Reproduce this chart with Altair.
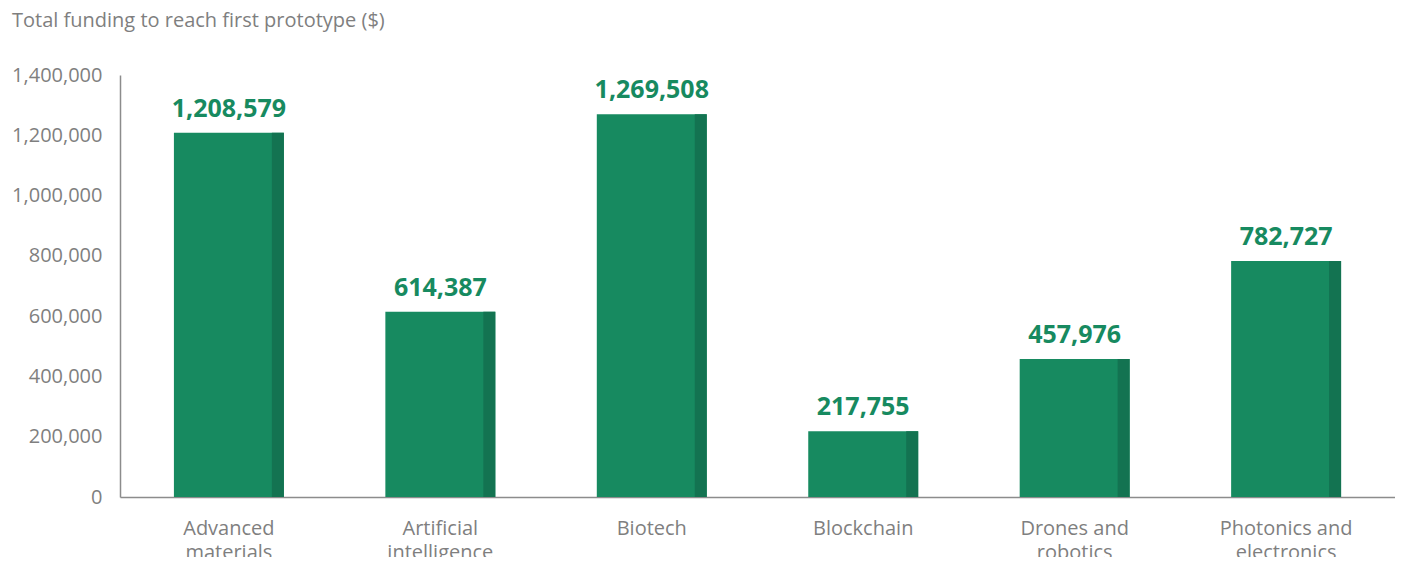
import altair as alt
import pandas as pd

categories = ["Advanced\nmaterials", "Artificial\nintelligence", "Biotech", "Blockchain",
              "Drones and\nrobotics", "Photonics and\nelectronics"]
values = [1208579, 614387, 1269508, 217755, 457976, 782727]
y_ticks = [0, 200000, 400000, 600000, 800000, 1000000, 1200000, 1400000]

df = pd.DataFrame({"cat": categories, "val": values})

FONT = "Open Sans"
GREEN = "#178A60"
DARK = "#137351"
GRAY = "#7f7f7f"

x_axis = alt.Axis(title=None, labelAngle=0, labelExpr="split(datum.label, '\\n')",
                  labelFontSize=20, labelColor=GRAY, labelFont=FONT,
                  labelPadding=21, labelLineHeight=24, ticks=False,
                  domainColor="#8c8c8c", domainWidth=1.5, labelBaseline="top")
x_scale = alt.Scale(paddingInner=0.48, paddingOuter=0.255)
y_scale = alt.Scale(domain=[0, 1400000], nice=False)
y_axis = alt.Axis(title=None, values=y_ticks, labelExpr="format(datum.value, ',')",
                  grid=False, ticks=False,
                  labelFontSize=20, labelColor=GRAY, labelFont=FONT,
                  labelPadding=18, domainColor="#8c8c8c", domainWidth=1.5)

x_enc = alt.X("cat:N", sort=categories, scale=x_scale, axis=x_axis)
y_enc = alt.Y("val:Q", scale=y_scale, axis=y_axis)

base = alt.Chart(df)

bars = base.mark_bar(color=GREEN).encode(x=x_enc, y=y_enc)

strip = base.mark_rule(color=DARK, strokeWidth=12, xOffset=-6).encode(
    x=alt.X("cat:N", sort=categories, scale=x_scale, axis=x_axis, bandPosition=1),
    y=y_enc,
    y2=alt.datum(0),
)

labels = base.mark_text(color=GREEN, fontSize=25, fontWeight="bold", font=FONT,
                        dy=-11, baseline="bottom").encode(
    x=x_enc,
    y=y_enc,
    text=alt.Text("val:Q", format=","),
)

chart = alt.layer(bars, strip, labels).properties(
    width=1275, height=422,
    autosize=alt.AutoSizeParams(type="none"),
    padding={"left": 112, "top": 67, "right": 0, "bottom": 60},
    title=alt.TitleParams("Total funding to reach first prototype ($)", anchor="start",
                          frame="group", dx=-108, offset=34, fontSize=20, font=FONT,
                          color=GRAY, fontWeight="normal"),
).configure_view(stroke=None)

chart.save("out.html", embed_options={"renderer": "svg", "actions": False})
